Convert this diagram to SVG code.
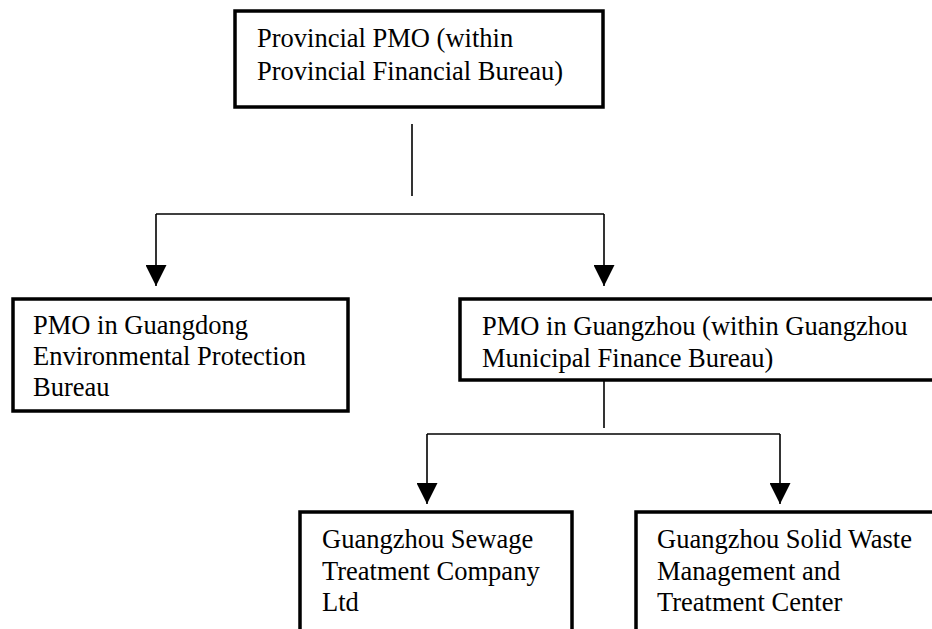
<svg xmlns="http://www.w3.org/2000/svg" width="932" height="629" viewBox="0 0 932 629">
  <style>
    .box { fill: #ffffff; stroke: #000000; stroke-width: 3.5; }
    .lbl { font-family: "Liberation Serif", "Times New Roman", serif; font-size: 26.5px; fill: #000000; }
    .conn { fill: none; stroke: #000000; stroke-width: 1.6; }
  </style>
  <defs>
    <marker id="arrow" viewBox="0 0 21 21" refX="21" refY="10.5" markerWidth="21" markerHeight="21" markerUnits="userSpaceOnUse" orient="auto">
      <path d="M0,0 L21,10.5 L0,21 Z" fill="#000000"/>
    </marker>
  </defs>
  <rect width="932" height="629" fill="#ffffff"/>

  <g id="connectors">
    <path class="conn" d="M412,124 V196"/>
    <path class="conn" d="M156,214 H604"/>
    <path class="conn" d="M156,214 V286" marker-end="url(#arrow)"/>
    <path class="conn" d="M604,214 V286" marker-end="url(#arrow)"/>
    <path class="conn" d="M604,380 V428"/>
    <path class="conn" d="M427,434 H780"/>
    <path class="conn" d="M427,434 V504" marker-end="url(#arrow)"/>
    <path class="conn" d="M780,434 V504" marker-end="url(#arrow)"/>
  </g>

  <g id="provincial-pmo">
    <rect class="box" x="235" y="11" width="368" height="96"/>
    <text class="lbl" x="257" y="47">Provincial PMO (within</text>
    <text class="lbl" x="257" y="80">Provincial Financial Bureau)</text>
  </g>

  <g id="pmo-guangdong-epb">
    <rect class="box" x="13" y="299" width="335" height="112"/>
    <text class="lbl" x="33" y="334">PMO in Guangdong</text>
    <text class="lbl" x="33" y="365">Environmental Protection</text>
    <text class="lbl" x="33" y="396">Bureau</text>
  </g>

  <g id="pmo-guangzhou">
    <rect class="box" x="460" y="299" width="485" height="81"/>
    <text class="lbl" x="482" y="335">PMO in Guangzhou (within Guangzhou</text>
    <text class="lbl" x="482" y="367">Municipal Finance Bureau)</text>
  </g>

  <g id="guangzhou-sewage">
    <rect class="box" x="300" y="512" width="272" height="140"/>
    <text class="lbl" x="322" y="548">Guangzhou Sewage</text>
    <text class="lbl" x="322" y="580">Treatment Company</text>
    <text class="lbl" x="322" y="611">Ltd</text>
  </g>

  <g id="guangzhou-solid-waste">
    <rect class="box" x="636" y="512" width="310" height="140"/>
    <text class="lbl" x="657" y="548">Guangzhou Solid Waste</text>
    <text class="lbl" x="657" y="580">Management and</text>
    <text class="lbl" x="657" y="611">Treatment Center</text>
  </g>
</svg>
